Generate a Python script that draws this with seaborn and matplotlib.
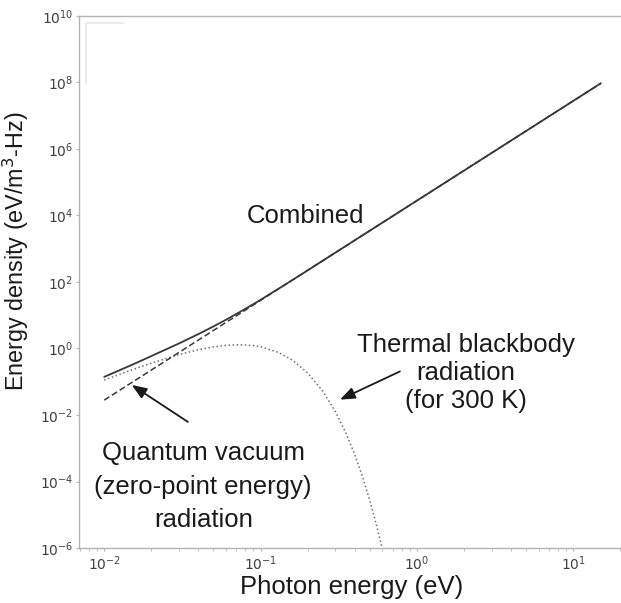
import matplotlib
matplotlib.use("Agg")
import matplotlib.pyplot as plt
import seaborn as sns
from matplotlib import ticker
from matplotlib.lines import Line2D

# photon energy (eV) and spectral energy density (eV/m^3-Hz)
combined_x = [0.01, 0.015, 0.02, 0.03, 0.04, 0.05, 0.06, 0.073, 0.09, 0.1, 0.13, 0.16,
              0.2, 0.3, 0.5, 1.0, 2.0, 5.0, 10.0, 15.0]
combined_y = [0.14, 0.32, 0.59, 1.41, 2.71, 4.62, 7.29, 12.2, 21.6, 29.1, 62.3, 115,
              224, 756, 3500, 2.8e4, 2.24e5, 3.5e6, 2.8e7, 9.45e7]

vacuum_x = [0.01, 0.1, 1.0, 10.0, 15.0]
vacuum_y = [0.028, 28, 2.8e4, 2.8e7, 9.45e7]

thermal_x = [0.01, 0.015, 0.02, 0.03, 0.04, 0.05, 0.06, 0.073, 0.09, 0.1, 0.13, 0.16,
             0.2, 0.25, 0.3, 0.35, 0.4, 0.45, 0.5, 0.55, 0.6]
thermal_y = [0.112, 0.227, 0.362, 0.652, 0.915, 1.117, 1.244, 1.3, 1.224, 1.13, 0.766, 0.445,
             0.185, 0.0522, 0.01305, 2.99e-3, 6.48e-4, 1.33e-4, 2.64e-5, 5.06e-6, 9.5e-7]

xtick_vals = [1e-2, 1e-1, 1e0, 1e1]
ytick_vals = [1e-6, 1e-4, 1e-2, 1e0, 1e2, 1e4, 1e6, 1e8, 1e10]

sns.set_style("whitegrid")
plt.rcParams["font.family"] = ["DejaVu Sans"]

fig = plt.figure(figsize=(6.21, 6.03), dpi=100)
ax = fig.add_axes([0.1272, 0.0912, 0.8792, 0.8823])

line_col = "#383838"
sns.lineplot(x=thermal_x, y=thermal_y, ax=ax, color="#707070", linestyle=":", linewidth=1.1,
             estimator=None, sort=False)
sns.lineplot(x=vacuum_x, y=vacuum_y, ax=ax, color=line_col, linestyle=(0, (4, 2)), linewidth=1.1,
             estimator=None, sort=False)
sns.lineplot(x=combined_x, y=combined_y, ax=ax, color=line_col, linewidth=1.3,
             estimator=None, sort=False)

ax.set_xscale("log")
ax.set_yscale("log")
ax.set_xlim(6.9e-3, 21.4)
ax.set_ylim(1e-6, 1e10)
ax.set_xticks(xtick_vals)
ax.set_yticks(ytick_vals)
ax.yaxis.set_minor_locator(ticker.NullLocator())
ax.grid(False)

for s in ax.spines.values():
    s.set_color("#b4b4b4")
    s.set_linewidth(1.0)
ax.tick_params(axis="both", which="major", bottom=True, left=True, length=2.5, width=0.8,
               color="#b4b4b4", labelsize=10, labelcolor="#404040", pad=1.8)
ax.tick_params(axis="x", which="minor", bottom=True, length=2, width=0.6, color="#b4b4b4")

lab_font = dict(family="Liberation Sans", fontsize=18.5, color="#1a1a1a")
ax.set_xlabel("Photon energy (eV)", **lab_font)
ax.xaxis.set_label_coords(0.5, -0.05)
ax.set_ylabel("Energy density (eV/m$^3$-Hz)", family="Liberation Sans", fontsize=16.8,
              color="#1a1a1a")
ax.yaxis.set_label_coords(-0.088, 0.558)

ax.text(0.195, 9.6e3, "Combined", ha="center", va="center", **lab_font)
ax.text(2.06, 0.186, "Thermal blackbody\nradiation\n(for 300 K)", ha="center", va="center",
        linespacing=1.2, **lab_font)
ax.text(0.043, 7.0e-5, "Quantum vacuum\n(zero-point energy)\nradiation", ha="center", va="center",
        linespacing=1.5, **lab_font)

arrow = dict(arrowstyle="-|>,head_length=0.9,head_width=0.35", color="#1a1a1a", lw=1.3,
             shrinkA=0, shrinkB=0)
ax.annotate("", xy=(0.015, 0.08), xytext=(0.0343, 0.0062), arrowprops=arrow)
ax.annotate("", xy=(0.322, 0.029), xytext=(0.778, 0.204), arrowprops=arrow)

# faint leftover legend frame in the top-left corner
fig.add_artist(Line2D([86 / 621, 86 / 621, 123 / 621], [1 - 83 / 603, 1 - 23 / 603, 1 - 23 / 603],
                      color="#ebebeb", linewidth=1.5))

fig.savefig("out.png", dpi=100)
